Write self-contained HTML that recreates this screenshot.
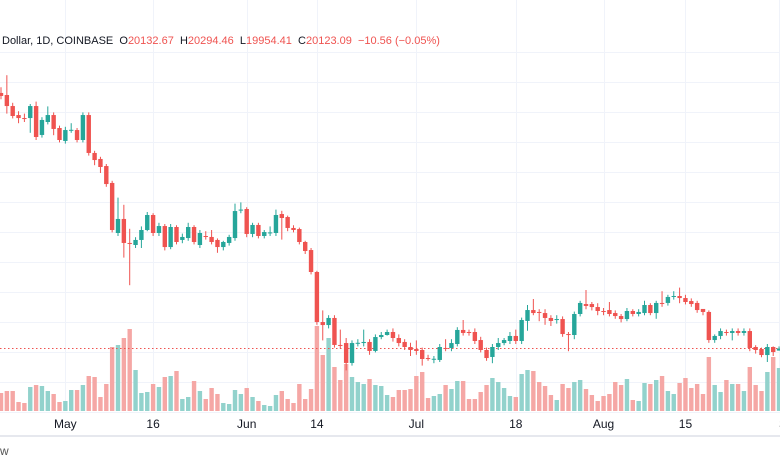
<!DOCTYPE html>
<html><head><meta charset="utf-8"><style>
html,body{margin:0;padding:0;background:#fff;width:780px;height:470px;overflow:hidden}
svg{display:block}
text{font-family:"Liberation Sans",sans-serif}
</style></head><body>
<svg id="chart" width="780" height="470" viewBox="0 0 780 470" xmlns="http://www.w3.org/2000/svg">
<g id="grid"></g>
<g id="vol"></g>
<line x1="0" x2="780" y1="348.5" y2="348.5" stroke="#ef5350" stroke-width="1" stroke-dasharray="1.5,2.5"/>
<g id="candles"></g>
<rect x="0" y="435" width="780" height="2" fill="#e6e8ee"/>
<g id="xaxis"></g>
<text x="2" y="44" font-size="11" fill="#131722" xml:space="preserve">Dollar, 1D, COINBASE  O<tspan fill="#ef5350">20132.67</tspan>  H<tspan fill="#ef5350">20294.46</tspan>  L<tspan fill="#ef5350">19954.41</tspan>  C<tspan fill="#ef5350">20123.09  −10.56 (−0.05%)</tspan></text>
<text x="0" y="455" font-size="12" fill="#555">w</text>
</svg>
<script>
const opens=[41.42,41.25,40.33,39.58,39.33,39.33,40.33,37.92,39.0,39.58,38.5,37.42,38.33,38.33,37.5,39.58,36.42,35.92,35.33,33.92,29.75,30.92,28.92,28.75,29.17,30.0,31.25,29.75,30.33,28.58,30.25,29.17,29.33,30.25,28.75,29.5,29.42,29.17,28.58,28.92,29.33,31.67,31.75,29.67,30.42,29.5,29.75,29.75,31.33,31.08,30.17,30.08,29.0,28.33,26.5,22.33,22.08,22.67,20.42,20.58,18.92,20.58,20.58,20.67,19.92,21.08,21.25,21.5,21.0,20.67,20.25,20.08,20.0,19.33,19.25,19.17,20.17,20.17,20.5,21.67,21.5,21.5,20.83,20.0,19.42,20.25,20.58,20.75,21.17,20.75,22.42,23.33,23.17,23.08,22.67,22.5,22.58,21.33,21.25,23.0,23.83,23.83,23.58,23.25,23.33,23.08,22.83,22.58,23.25,23.0,23.08,23.75,23.08,23.92,23.92,24.42,24.5,24.33,24.08,23.92,23.42,23.17,20.83,21.17,21.5,21.42,21.58,21.42,21.58,20.25,20.08,19.58,20.25,19.95];
const closes=[41.17,40.33,39.5,39.33,39.3,40.33,37.75,39.17,39.58,38.42,37.5,38.33,38.35,37.5,39.58,36.42,35.83,35.25,33.83,30.0,30.92,28.92,28.9,29.17,30.0,31.25,29.75,30.33,28.58,30.25,29.0,29.42,30.25,29.0,29.75,29.45,29.0,28.58,29.0,29.42,31.58,31.7,29.67,30.42,29.5,29.83,29.8,31.25,31.0,30.17,30.0,29.0,28.25,26.5,22.33,22.08,22.67,20.42,20.4,18.92,20.58,20.6,20.67,19.92,21.08,21.25,21.5,21.0,20.58,20.25,20.0,19.92,19.25,19.3,19.27,20.25,20.15,20.58,21.67,21.42,21.48,20.75,20.0,19.33,20.25,20.58,20.83,21.17,20.75,22.5,23.33,23.08,23.15,22.67,22.42,22.58,21.33,21.25,23.0,23.92,23.67,23.58,23.25,23.23,23.0,22.83,22.58,23.25,23.0,23.17,23.75,23.08,23.92,23.9,24.42,24.5,24.33,24.0,23.83,23.33,23.17,20.83,21.17,21.58,21.42,21.58,21.42,21.58,20.17,20.0,19.58,20.25,19.83,20.12];
const highs=[41.9,42.9,40.6,39.9,39.7,40.5,40.7,39.4,40.3,39.8,38.7,38.6,38.9,38.5,39.8,39.8,36.6,36.1,35.5,34.1,32.7,32.1,30.1,29.4,30.3,31.5,31.4,30.6,30.5,30.5,30.4,29.7,30.6,30.4,30.0,29.9,30.0,29.3,29.1,29.6,32.2,32.3,31.9,30.6,30.6,30.0,30.3,31.7,31.6,31.2,30.4,30.2,29.1,28.5,26.6,23.3,22.9,22.9,21.7,21.0,20.8,20.9,21.7,20.9,21.3,21.5,21.7,21.8,21.3,20.9,20.6,20.8,20.2,19.6,19.5,20.5,20.9,20.9,21.9,22.5,21.7,21.8,21.1,20.2,20.5,21.0,21.0,21.5,21.7,22.7,23.75,24.25,23.4,23.4,22.9,22.9,22.8,21.5,23.2,24.1,25.0,24.0,23.9,23.5,24.0,23.3,23.0,23.5,23.4,23.4,24.1,23.9,24.1,24.9,24.6,24.9,25.2,24.6,24.3,24.1,23.4,23.3,21.3,21.8,21.7,21.8,21.8,21.8,21.8,20.4,20.2,20.5,20.3,20.3];
const lows=[40.9,39.7,39.3,38.9,39.0,38.1,37.5,37.7,38.8,37.9,37.3,37.2,38.1,37.3,37.3,36.2,35.4,34.75,33.6,29.8,29.5,27.7,25.4,28.5,28.5,29.9,29.5,29.5,28.3,28.4,28.8,28.9,29.1,28.8,28.5,29.2,28.8,28.1,28.3,28.7,29.1,31.4,29.4,29.4,29.3,29.3,29.5,29.5,29.2,29.9,29.8,28.8,28.0,26.3,22.1,20.8,21.8,20.2,20.1,18.3,18.7,20.3,20.3,19.6,19.8,20.9,21.2,20.7,20.3,20.0,19.5,19.6,18.7,19.1,18.9,19.0,19.9,19.9,20.3,21.2,21.2,20.5,19.8,19.1,18.9,20.0,20.4,20.5,20.5,20.5,21.6,22.9,22.4,22.1,22.0,22.2,21.1,19.9,20.9,22.8,23.4,23.3,22.9,22.9,22.8,22.6,22.3,22.4,22.8,22.8,22.9,22.9,22.6,23.6,23.7,24.2,23.9,23.8,23.6,23.1,22.9,20.6,20.6,20.9,21.2,20.8,21.2,21.2,19.9,19.7,19.4,19.0,19.5,19.95];
const volumes=[18,20,20,9,8,24,26,25,20,17,9,10,21,21,26,35,34,14,27,64,66,73,82,41,18,19,27,24,34,35,40,12,14,30,20,12,23,17,8,7,21,17,23,14,10,6,5,16,20,12,8,27,12,22,85,56,73,44,31,47,34,29,27,32,26,25,16,14,21,21,22,35,39,13,15,17,26,22,30,30,12,12,19,26,33,29,23,15,14,37,41,40,29,25,16,11,27,23,29,31,22,16,10,15,17,29,26,32,11,10,28,27,31,35,20,17,28,33,23,27,17,54,26,19,31,27,27,20,44,26,20,39,54,43];
const tickLabels=["May","16","Jun","14","Jul","18","Aug","15","S"];
const tickIndex=[11,26,42,54,71,88,103,117,133];

const NS="http://www.w3.org/2000/svg";
const xOf=i=>1+5.85*i;
const yOf=p=>350-(p-20)*12;
const vY=v=>411-v;
function mk(tag,attrs,parent){const e=document.createElementNS(NS,tag);for(const k in attrs)e.setAttribute(k,attrs[k]);parent.appendChild(e);return e;}
const grid=document.getElementById('grid');
for(let y=52;y<=412;y+=30){const l=mk('line',{x1:0,x2:780,y1:y+0.5,y2:y+0.5,stroke:'#f0f3fa','stroke-width':1},grid);

}
tickIndex.forEach(ti=>{const x=Math.round(xOf(ti))+0.5;const l=mk('line',{x1:x,x2:x,y1:0,y2:411,stroke:'#f0f3fa','stroke-width':1},grid);

});
const vol=document.getElementById('vol'),cg=document.getElementById('candles');
closes.forEach((c,i)=>{
 const o=opens[i],up=c>=o,x=xOf(i);
 const vb=mk('rect',{x:x-2.2,y:vY(volumes[i]),width:4.4,height:volumes[i],fill:up?'#92d2cc':'#f5a7a5'},vol);
 
 
 const col=up?'#26a69a':'#ef5350';
 const w=mk('line',{x1:x,x2:x,y1:yOf(highs[i]),y2:yOf(lows[i]),stroke:col,'stroke-width':1},cg);
 
 
 const top=yOf(Math.max(o,c)),bot=yOf(Math.min(o,c));
 const b=mk('rect',{x:x-2.2,y:top,width:4.4,height:Math.max(1,bot-top),fill:col},cg);
 
 
});
const xa=document.getElementById('xaxis');
tickLabels.forEach((t,k)=>{const tx=mk('text',{x:xOf(tickIndex[k]),y:428,'font-size':12,fill:'#131722','text-anchor':t==='S'?'start':'middle'},xa);
tx.textContent=t;

});
</script>
</body></html>
